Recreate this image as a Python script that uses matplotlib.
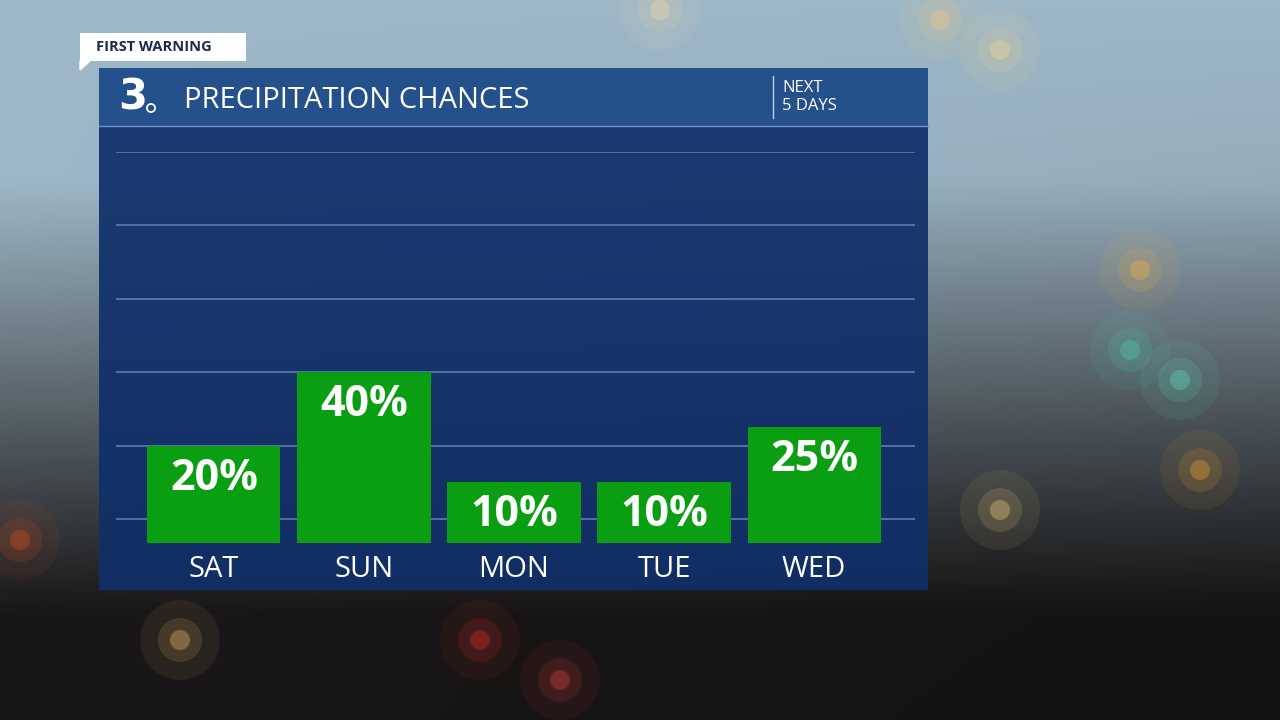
import numpy as np
import matplotlib
matplotlib.use("Agg")
import matplotlib.pyplot as plt
from matplotlib.patches import Rectangle, Circle

days = ["SAT", "SUN", "MON", "TUE", "WED"]
chances = [20, 40, 10, 10, 25]
grid_levels = [0, 20, 40, 60, 80, 100]
title = "PRECIPITATION CHANCES"

W, H = 1280, 720
fig = plt.figure(figsize=(12.8, 7.2), dpi=100)
bg = fig.add_axes([0, 0, 1, 1])
bg.set_xlim(0, W); bg.set_ylim(H, 0); bg.axis("off")

yy, xx = np.mgrid[0:H, 0:W]
top = np.array([0.62, 0.72, 0.78]); bot = np.array([0.10, 0.09, 0.09])
t = np.clip((yy / H - 0.25) / 0.6, 0, 1)[..., None]
img = top * (1 - t) + bot * t
img = img * (1 - 0.25 * (xx / W)[..., None] * (yy / H)[..., None])
bg.imshow(np.clip(img, 0, 1), extent=(0, W, H, 0), zorder=0)
rng_pts = [(660, 10, '#f3d9a0'), (940, 20, '#f5c77a'), (1000, 50, '#f7d58a'), (1140, 270, '#f5b040'),
           (1000, 510, '#f4d080'), (1200, 470, '#f0a030'), (1180, 380, '#60e0c0'), (1130, 350, '#50d0b0'),
           (20, 540, '#e05020'), (480, 640, '#e03030'), (560, 680, '#e04040'), (180, 640, '#f0c070')]
for x, y, c in rng_pts:
    for r, a in [(40, 0.08), (22, 0.15), (10, 0.35)]:
        bg.add_patch(Circle((x, y), r, color=c, alpha=a, zorder=1, lw=0))

bg.add_patch(Rectangle((99, 126), 829, 464, color='#10306a', alpha=0.93, zorder=2, lw=0))
bg.add_patch(Rectangle((99, 68), 829, 58, color='#24508c', zorder=2, lw=0))
bg.plot([99, 928], [126, 126], color='#6f8fc0', lw=1, zorder=3)
bg.text(184, 100, title, color='white', fontsize=21, va='center', ha='left', family='Open Sans', zorder=4)
bg.text(118, 98, "3", color='white', fontsize=30, fontweight='bold', va='center', ha='left', zorder=4)
bg.add_patch(Circle((151, 108), 6, facecolor='white', edgecolor='#24508c', lw=1.5, zorder=5))
bg.add_patch(Circle((151, 108), 2.5, color='#24508c', zorder=6))
bg.plot([773, 773], [76, 118], color='#c0d0e8', lw=1, zorder=4)
bg.text(782, 97, "NEXT\n5 DAYS", color='white', fontsize=12, va='center', ha='left',
        family='Open Sans', linespacing=1.1, zorder=4)
bg.add_patch(Rectangle((80, 33), 166, 28, color='white', zorder=4, lw=0))
bg.add_patch(plt.Polygon([[80, 61], [90, 61], [80, 70]], color='white', zorder=4))
bg.text(96, 47, "FIRST WARNING", color='#1a2a4a', fontsize=10.5, fontweight='bold', va='center',
        ha='left', family='Open Sans', zorder=5)

ax = fig.add_axes([116 / W, 1 - 543 / H, (915 - 116) / W, (543 - 152) / H])
ax.patch.set_alpha(0)
ax.set_xlim(-0.653, 4.673); ax.set_ylim(-6.5, 100)
ax.axis("off")
for g in grid_levels:
    ax.axhline(g, color='#5b76a6', lw=1.3, zorder=1)
x = np.arange(len(days))
ax.bar(x, [c + 6.5 for c in chances], bottom=-6.5, width=0.887, color='#0a9e12', zorder=2)
for xi, c, d in zip(x, chances, days):
    ax.text(xi, c - 3, f"{c}%", color='white', fontsize=31, fontweight='bold', ha='center', va='top',
            family='Open Sans', zorder=3)
    ax.text(xi, -13.8, d, color='white', fontsize=21, ha='center', va='center', family='Open Sans',
            clip_on=False, zorder=3)

fig.savefig("out.png", dpi=100)
